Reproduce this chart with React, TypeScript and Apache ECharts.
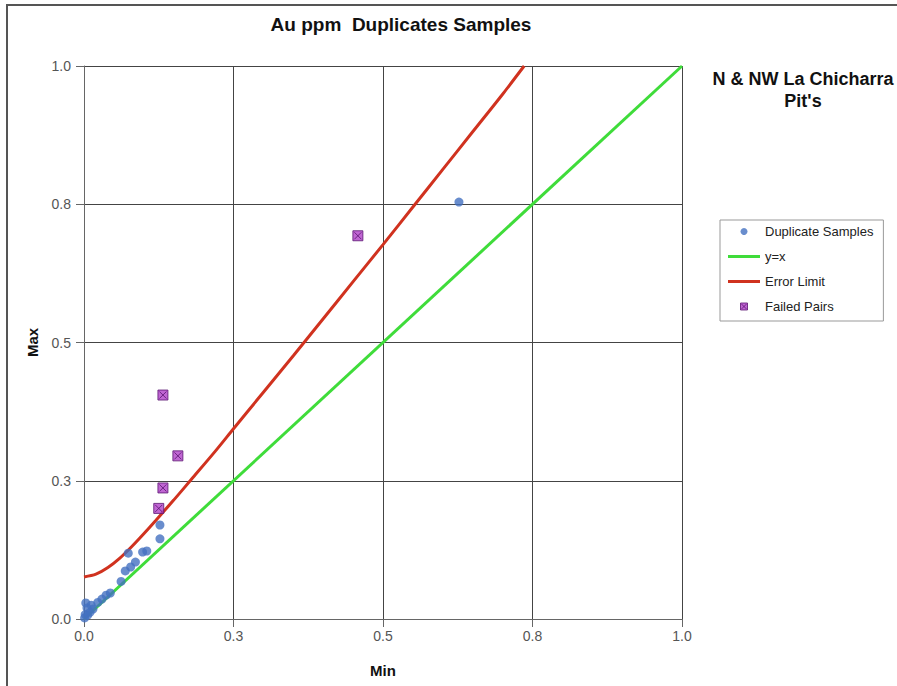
import React, { useEffect, useRef } from "react";
import * as echarts from "echarts";

const FONT = '"Liberation Sans", Arial, Helvetica, sans-serif';

const titleText = "Au ppm  Duplicates Samples";
const subtitleLines = ["N & NW La Chicharra", "Pit's"];
const xName = "Min";
const yName = "Max";
const seriesNames = ["Duplicate Samples", "y=x", "Error Limit", "Failed Pairs"];

// Duplicate samples [min, max]
const duplicateSamples: number[][] = [
  [0.627, 0.754],
  [0.127, 0.17],
  [0.127, 0.145],
  [0.074, 0.119],
  [0.098, 0.121],
  [0.105, 0.123],
  [0.086, 0.103],
  [0.078, 0.094],
  [0.069, 0.087],
  [0.062, 0.068],
  [0.044, 0.047],
  [0.037, 0.043],
  [0.03, 0.036],
  [0.023, 0.03],
  [0.012, 0.025],
  [0.003, 0.029],
  [0.005, 0.02],
  [0.002, 0.008],
  [0.006, 0.007],
  [0.01, 0.012],
  [0.001, 0.002],
  [0.015, 0.018],
];

// y = x reference line
const identityLine: number[][] = [
  [0, 0],
  [1, 1],
];

// Error limit curve
const errorLimitX = [0, 0.02, 0.04, 0.06, 0.08, 0.1, 0.12, 0.15, 0.18, 0.22, 0.25, 0.3, 0.35, 0.4, 0.45, 0.5, 0.55, 0.6, 0.65, 0.7, 0.736];
const errorLimitY = [0.076, 0.081, 0.093, 0.11, 0.131, 0.154, 0.178, 0.215, 0.253, 0.304, 0.344, 0.41, 0.476, 0.543, 0.61, 0.677, 0.745, 0.813, 0.881, 0.949, 1.0];

// Failed pairs [min, max]
const failedPairs: number[][] = [
  [0.132, 0.405],
  [0.157, 0.295],
  [0.132, 0.237],
  [0.125, 0.2],
  [0.458, 0.693],
];

const axisTicks = { min: 0, max: 1, interval: 0.25 };

const BLUE = "#4470C0";
const GREEN = "#3FDC3A";
const RED = "#D0321F";
const MAGENTA = "#B040C8";

const LINE_ICON = "path://M0,0H32V3H0Z";
const FAILED_SYMBOL = "path://M0,0H10V10H0Z M1.5,1.5L8.5,8.5 M8.5,1.5L1.5,8.5";

export default function App() {
  const ref = useRef<HTMLDivElement>(null);

  useEffect(() => {
    document.body.style.margin = "0";
    if (!ref.current) return;
    const chart = echarts.init(ref.current, null, { renderer: "svg" });

    const errorLimit = errorLimitX.map((x, i) => [x, errorLimitY[i]]);

    const axisCommon = {
      type: "value" as const,
      min: axisTicks.min,
      max: axisTicks.max,
      interval: axisTicks.interval,
      nameLocation: "middle" as const,
      nameTextStyle: { fontFamily: FONT, fontWeight: "bold", fontSize: 15, color: "#111" },
      axisLine: { show: true, lineStyle: { color: "#666", width: 1 } },
      axisTick: { show: true, inside: false, length: 8, lineStyle: { color: "#666" } },
      splitLine: { show: true, lineStyle: { color: "#444", width: 1 } },
      axisLabel: {
        fontFamily: FONT,
        fontSize: 14,
        color: "#555",
        formatter: (v: number) => v.toFixed(1),
      },
    };

    chart.setOption({
      animation: false,
      backgroundColor: "#fff",
      grid: { left: 84, right: 215, top: 66, bottom: 67, containLabel: false },
      xAxis: { ...axisCommon, name: xName, nameGap: 44, axisLabel: { ...axisCommon.axisLabel, margin: 10 } },
      yAxis: { ...axisCommon, name: yName, nameGap: 44, nameRotate: 90, axisLabel: { ...axisCommon.axisLabel, margin: 13 } },
      legend: {
        orient: "vertical",
        left: 720,
        top: 220,
        padding: [5, 10, 8, 8],
        itemWidth: 32,
        itemHeight: 7,
        itemGap: 12,
        backgroundColor: "#fff",
        borderColor: "#999",
        borderWidth: 1,
        borderRadius: 0,
        textStyle: { fontFamily: FONT, fontSize: 13, color: "#222" },
        data: [
          { name: seriesNames[0], icon: "circle" },
          { name: seriesNames[1], icon: LINE_ICON },
          { name: seriesNames[2], icon: LINE_ICON },
          { name: seriesNames[3], icon: FAILED_SYMBOL, itemStyle: { color: MAGENTA, borderColor: "#5A1470", borderWidth: 1 } },
        ],
      },
      graphic: [
        {
          type: "rect",
          silent: true,
          z: -10,
          shape: { x: 7, y: 5, width: 905, height: 700 },
          style: { fill: "none", stroke: "#555", lineWidth: 2 },
        },
        {
          type: "text",
          x: 401,
          y: 24,
          style: {
            text: titleText,
            fontFamily: FONT,
            fontWeight: "bold",
            fontSize: 19,
            fill: "#111",
            textAlign: "center",
            textVerticalAlign: "middle",
          },
        },
        {
          type: "text",
          x: 803,
          y: 79,
          style: {
            text: subtitleLines[0],
            fontFamily: FONT,
            fontWeight: "bold",
            fontSize: 18,
            fill: "#111",
            textAlign: "center",
            textVerticalAlign: "middle",
          },
        },
        {
          type: "text",
          x: 803,
          y: 101,
          style: {
            text: subtitleLines[1],
            fontFamily: FONT,
            fontWeight: "bold",
            fontSize: 18,
            fill: "#111",
            textAlign: "center",
            textVerticalAlign: "middle",
          },
        },
      ],
      series: [
        {
          name: seriesNames[0],
          type: "scatter",
          data: duplicateSamples,
          symbol: "circle",
          symbolSize: 9,
          itemStyle: { color: BLUE },
          z: 4,
        },
        {
          name: seriesNames[1],
          type: "line",
          data: identityLine,
          symbol: "none",
          lineStyle: { color: GREEN, width: 3 },
          itemStyle: { color: GREEN },
          z: 2,
        },
        {
          name: seriesNames[2],
          type: "line",
          data: errorLimit,
          symbol: "none",
          smooth: 0.3,
          lineStyle: { color: RED, width: 3 },
          itemStyle: { color: RED },
          z: 3,
        },
        {
          name: seriesNames[3],
          type: "scatter",
          data: failedPairs,
          symbol: FAILED_SYMBOL,
          symbolSize: 10,
          itemStyle: { color: MAGENTA, borderColor: "#5A1470", borderWidth: 1 },
          z: 5,
        },
      ],
    });

    return () => {
      chart.dispose();
    };
  }, []);

  return <div ref={ref} style={{ width: 897, height: 686 }} />;
}
